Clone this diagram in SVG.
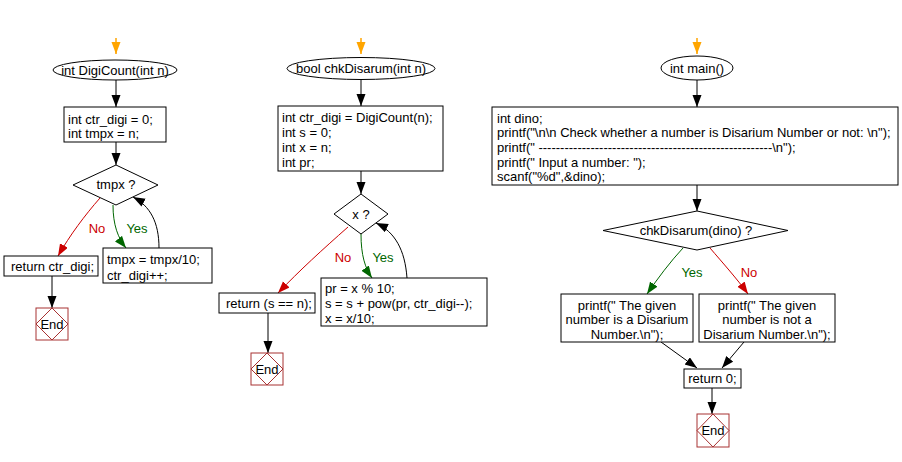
<svg xmlns="http://www.w3.org/2000/svg" width="902" height="462" viewBox="0 0 902 462">
<style>
text{font-family:"Liberation Sans",Arial,sans-serif;font-size:13px;fill:#000}
.box{fill:#fff;stroke:#000;stroke-width:1}
.end{fill:#fff;stroke:#a83232;stroke-width:1}
.endd{fill:none;stroke:#a83232;stroke-width:1}
.c{text-anchor:middle}
.k{fill:none;stroke:#000;stroke-width:1}
.r{fill:none;stroke:#cc0000;stroke-width:1}
.g{fill:none;stroke:#006600;stroke-width:1}
.o{fill:none;stroke:#ffa500;stroke-width:1.5}
.lr{fill:#cc0000}
.lg{fill:#006600}
</style>
<defs>
<marker id="ak" markerUnits="userSpaceOnUse" markerWidth="14" markerHeight="12" refX="12" refY="4.5" orient="auto"><path d="M0,0 L12,4.5 L0,9 z" fill="#000"/></marker>
<marker id="ar" markerUnits="userSpaceOnUse" markerWidth="14" markerHeight="12" refX="12" refY="4.5" orient="auto"><path d="M0,0 L12,4.5 L0,9 z" fill="#cc0000"/></marker>
<marker id="ag" markerUnits="userSpaceOnUse" markerWidth="14" markerHeight="12" refX="12" refY="4.5" orient="auto"><path d="M0,0 L12,4.5 L0,9 z" fill="#006600"/></marker>
<marker id="ao" markerUnits="userSpaceOnUse" markerWidth="14" markerHeight="12" refX="12" refY="4.5" orient="auto"><path d="M0,0 L12,4.5 L0,9 z" fill="#ffa500"/></marker>
</defs>

<g id="connectors">
<path class="o" d="M116,38 L116,54" marker-end="url(#ao)"/>
<path class="k" d="M116,80 L116,107" marker-end="url(#ak)"/>
<path class="k" d="M116,142 L116,165" marker-end="url(#ak)"/>
<path class="r" d="M100,198 C85,215 70,235 58,256" marker-end="url(#ar)"/>
<path class="g" d="M113,205 C113,225 118,238 126,248" marker-end="url(#ag)"/>
<path class="k" d="M159,248 C159,222 150,206 133,197" marker-end="url(#ak)"/>
<path class="k" d="M52,276 L52,308" marker-end="url(#ak)"/>

<path class="o" d="M361,38 L361,54" marker-end="url(#ao)"/>
<path class="k" d="M361,80 L361,106" marker-end="url(#ak)"/>
<path class="k" d="M361,171 L361,194" marker-end="url(#ak)"/>
<path class="r" d="M348,227 C322,250 300,270 278,293" marker-end="url(#ar)"/>
<path class="g" d="M361,234 C361,255 365,268 372,278" marker-end="url(#ag)"/>
<path class="k" d="M407,278 C405,250 395,232 376,223" marker-end="url(#ak)"/>
<path class="k" d="M268,313 L268,353" marker-end="url(#ak)"/>

<path class="o" d="M697,38 L697,54" marker-end="url(#ao)"/>
<path class="k" d="M697,80 L697,107" marker-end="url(#ak)"/>
<path class="k" d="M697,185 L697,211" marker-end="url(#ak)"/>
<path class="g" d="M683,248 C670,262 658,278 647,294" marker-end="url(#ag)"/>
<path class="r" d="M710,248 C722,262 738,280 748,294" marker-end="url(#ar)"/>
<path class="k" d="M661,342 L697,368" marker-end="url(#ak)"/>
<path class="k" d="M744,342 L722,368" marker-end="url(#ak)"/>
<path class="k" d="M712,388 L712,414" marker-end="url(#ak)"/>

<text class="c lr" x="97" y="233">No</text>
<text class="c lg" x="137" y="233">Yes</text>
<text class="c lr" x="343" y="262">No</text>
<text class="c lg" x="383" y="262">Yes</text>
<text class="c lg" x="692" y="277">Yes</text>
<text class="c lr" x="749" y="277">No</text>
</g>

<g id="digicount-start"><ellipse class="box" cx="115" cy="70" rx="62" ry="10"/><text class="c" x="115" y="74.5">int DigiCount(int n)</text></g>
<g id="digicount-init"><rect class="box" x="64" y="107" width="102" height="35"/><text x="68" y="124">int ctr_digi = 0;</text><text x="68" y="138">int tmpx = n;</text></g>
<g id="digicount-cond"><polygon class="box" points="116,165 158,185 116,205 73,185"/><text class="c" x="116" y="189">tmpx ?</text></g>
<g id="digicount-return"><rect class="box" x="4" y="256" width="94" height="20"/><text x="11" y="271">return ctr_digi;</text></g>
<g id="digicount-body"><rect class="box" x="103" y="248" width="109" height="35"/><text x="107" y="264">tmpx = tmpx/10;</text><text x="107" y="280">ctr_digi++;</text></g>
<g id="digicount-end"><rect class="end" x="36" y="308" width="32" height="32"/><polygon class="endd" points="52,308 68,324 52,340 36,324"/><text class="c" x="52" y="328.5">End</text></g>

<g id="chk-start"><ellipse class="box" cx="361" cy="68.5" rx="74" ry="11"/><text class="c" x="361" y="73">bool chkDisarum(int n)</text></g>
<g id="chk-init"><rect class="box" x="278" y="106" width="165" height="65"/><text x="282" y="122">int ctr_digi = DigiCount(n);</text><text x="282" y="137">int s = 0;</text><text x="282" y="152">int x = n;</text><text x="282" y="167">int pr;</text></g>
<g id="chk-cond"><polygon class="box" points="361,194 388,214 361,234 334,214"/><text class="c" x="361" y="218.5">x ?</text></g>
<g id="chk-return"><rect class="box" x="219" y="293" width="96" height="20"/><text x="226" y="308">return (s == n);</text></g>
<g id="chk-body"><rect class="box" x="321" y="278" width="166" height="48"/><text x="325" y="293">pr = x % 10;</text><text x="325" y="308">s = s + pow(pr, ctr_digi--);</text><text x="325" y="323">x = x/10;</text></g>
<g id="chk-end"><rect class="end" x="251" y="353" width="32" height="32"/><polygon class="endd" points="267,353 283,369 267,385 251,369"/><text class="c" x="267" y="373.5">End</text></g>

<g id="main-start"><ellipse class="box" cx="697" cy="68" rx="36" ry="12"/><text class="c" x="697" y="72.5">int main()</text></g>
<g id="main-init"><rect class="box" x="492" y="107" width="406" height="78"/><text x="497" y="123">int dino;</text><text x="497" y="137">printf("\n\n Check whether a number is Disarium Number or not: \n");</text><text x="497" y="152">printf(" ------------------------------------------------------\n");</text><text x="497" y="167">printf(" Input a number: ");</text><text x="497" y="181">scanf("%d",&amp;dino);</text></g>
<g id="main-cond"><polygon class="box" points="697,211 788,230.5 697,250 603,230.5"/><text class="c" x="696" y="235">chkDisarum(dino) ?</text></g>
<g id="main-yes"><rect class="box" x="561" y="294" width="132" height="48"/><text class="c" x="627" y="310">printf(" The given</text><text class="c" x="627" y="324">number is a Disarium</text><text class="c" x="627" y="339">Number.\n");</text></g>
<g id="main-no"><rect class="box" x="699" y="294" width="136" height="48"/><text class="c" x="767" y="310">printf(" The given</text><text class="c" x="767" y="324">number is not a</text><text class="c" x="767" y="339">Disarium Number.\n");</text></g>
<g id="main-return"><rect class="box" x="684" y="369" width="57" height="19"/><text class="c" x="712.5" y="383">return 0;</text></g>
<g id="main-end"><rect class="end" x="697" y="414" width="32" height="33"/><polygon class="endd" points="713,414 729,430.5 713,447 697,430.5"/><text class="c" x="713" y="435">End</text></g>
</svg>
